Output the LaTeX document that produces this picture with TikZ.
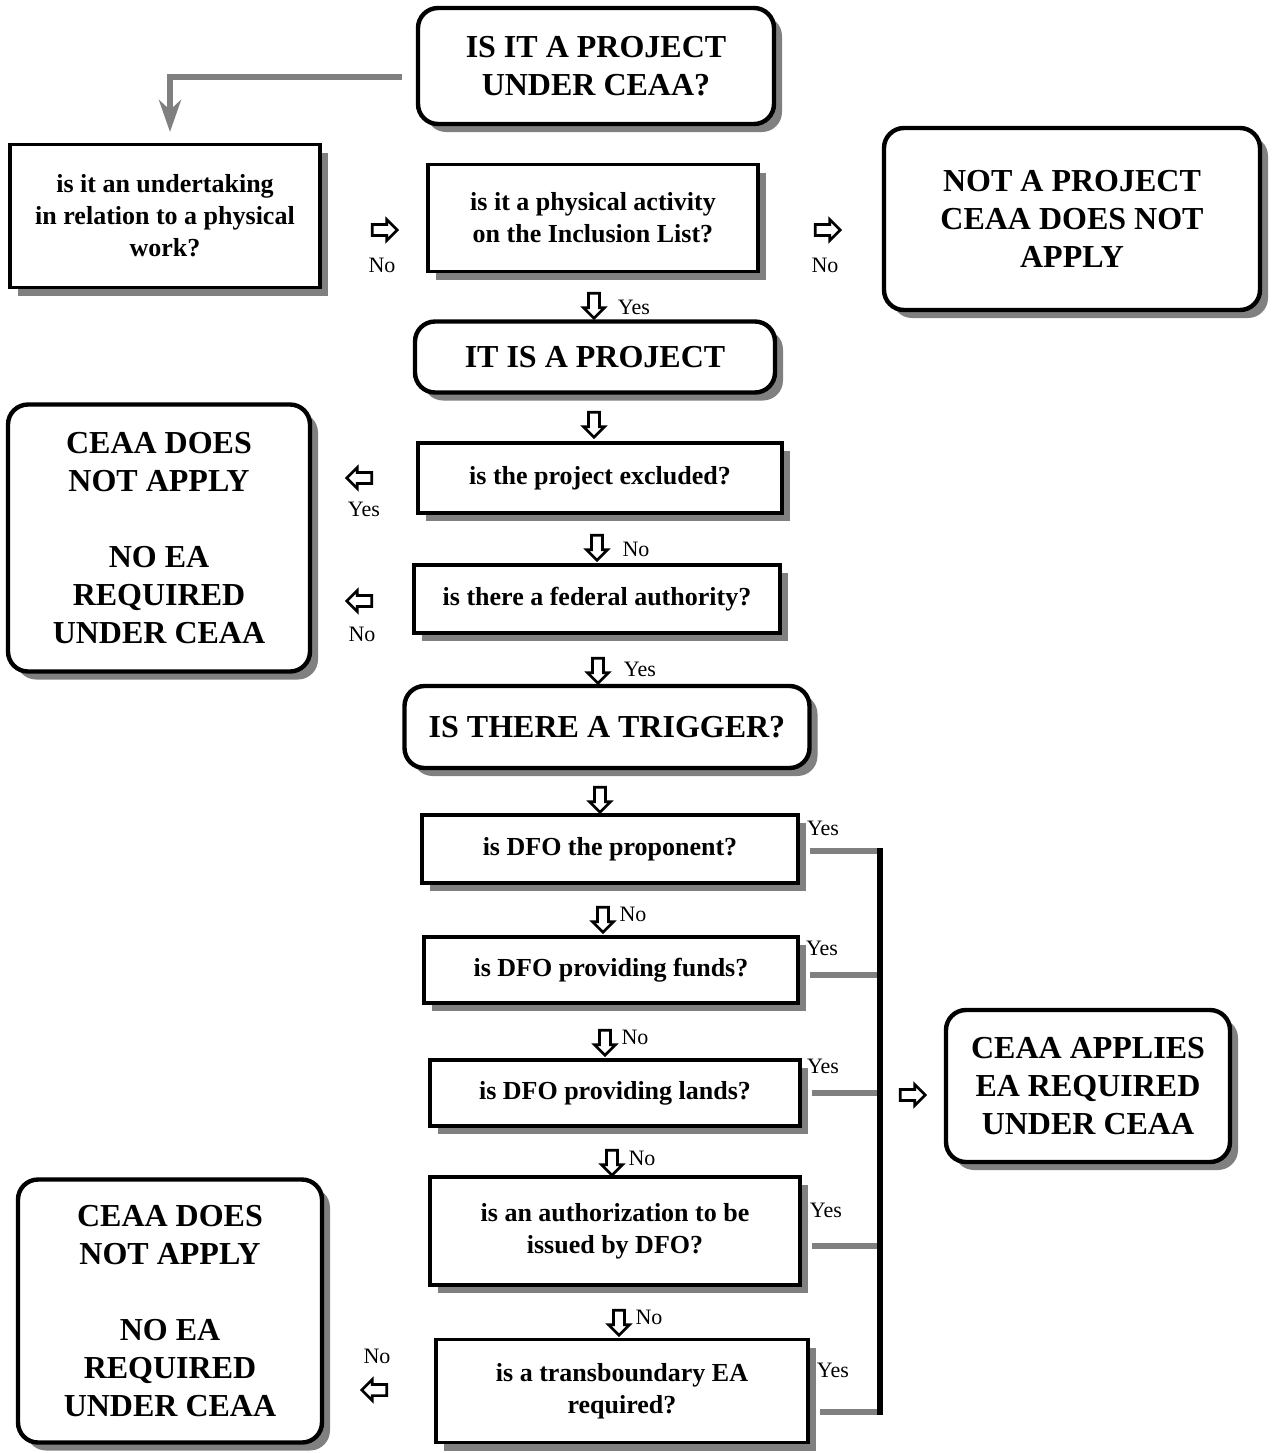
\documentclass[tikz,border=0pt]{standalone}
\usepackage{fontspec}
\setmainfont{Liberation Serif}
\usetikzlibrary{shapes.arrows,shadows,arrows.meta}
\definecolor{shade}{gray}{0.5}
\begin{document}
\begin{tikzpicture}[x=0.5pt,y=-0.5pt,
 box/.style={draw=black, line width=1.8pt, fill=white, align=center,
   font=\bfseries\fontsize{13}{16}\selectfont,
   drop shadow={shadow xshift=4pt, shadow yshift=-4pt, fill=shade, opacity=1}, inner sep=0pt},
 rbox/.style={box, rounded corners=10pt, line width=2.2pt, font=\bfseries\fontsize{16}{19}\selectfont},
 barrow/.style={single arrow, draw=black, line width=1.3pt, fill=white, minimum height=12.5pt,
   minimum width=10.5pt, single arrow head extend=2.2pt, inner sep=1.8pt},
 darrow/.style={barrow, shape border rotate=270},
 larrow/.style={barrow, shape border rotate=180},
 lbl/.style={font=\fontsize{11}{13}\selectfont, inner sep=0pt},
 conn/.style={line width=3pt, draw=shade},
 bus/.style={line width=3pt, draw=black}
]
\useasboundingbox (0,0) rectangle (1275,1453);

% boxes
\node[rbox, minimum width=178pt, minimum height=58pt] (q0) at (596,66) {IS IT A PROJECT\\UNDER CEAA?};
\node[box, minimum width=155pt, minimum height=71.5pt] (q1) at (165,216) {is it an undertaking\\in relation to a physical\\work?};
\node[box, minimum width=165pt, minimum height=53.5pt] (q2) at (593,218) {is it a physical activity\\on the Inclusion List?};
\node[rbox, minimum width=188pt, minimum height=91pt] (np) at (1072,219) {NOT A PROJECT\\CEAA DOES NOT\\APPLY};
\node[rbox, minimum width=180pt, minimum height=35.5pt] (ip) at (595,357) {IT IS A PROJECT};
\node[rbox, minimum width=151pt, minimum height=133.5pt] (na1) at (159,538) {CEAA DOES\\NOT APPLY\\[19pt]NO EA\\REQUIRED\\UNDER CEAA};
\node[box, minimum width=182pt, minimum height=35pt] (ex) at (600,478) {is the project excluded?};
\node[box, minimum width=183pt, minimum height=34pt] (fa) at (597,599) {is there a federal authority?};
\node[rbox, minimum width=202.5pt, minimum height=41pt] (tr) at (607,727) {IS THERE A TRIGGER?};
\node[box, minimum width=188pt, minimum height=34pt] (p1) at (610,849) {is DFO the proponent?};
\node[box, minimum width=187pt, minimum height=33pt] (p2) at (611,970) {is DFO providing funds?};
\node[box, minimum width=185pt, minimum height=33pt] (p3) at (615,1093) {is DFO providing lands?};
\node[box, minimum width=185pt, minimum height=54pt] (p4) at (615,1231) {is an authorization to be\\issued by DFO?};
\node[box, minimum width=186pt, minimum height=51.5pt] (p5) at (622,1391) {is a transboundary EA\\required?};
\node[rbox, minimum width=152pt, minimum height=131.5pt] (na2) at (170,1311) {CEAA DOES\\NOT APPLY\\[19pt]NO EA\\REQUIRED\\UNDER CEAA};
\node[rbox, minimum width=142pt, minimum height=76pt] (ap) at (1088,1086) {CEAA APPLIES\\EA REQUIRED\\UNDER CEAA};

% connector from the top box
\coordinate (c0) at (170,132);
\draw[conn,-{Stealth[length=16pt,width=11pt,inset=5pt]}] ([xshift=-7pt,yshift=-5.5pt]q0.west) -| (c0);

% bus on the right
\coordinate (bt) at (880,851);
\coordinate (bb) at (880,1412);
\coordinate (h1) at ([xshift=5pt,yshift=-1pt]p1.east);
\coordinate (h2) at ([xshift=5pt,yshift=-2.5pt]p2.east);
\coordinate (h3) at ([xshift=5pt]p3.east);
\coordinate (h4) at ([xshift=5pt,yshift=-7.5pt]p4.east);
\coordinate (h5) at ([xshift=5pt,yshift=-10.5pt]p5.east);
\draw[conn] (h1) -- (h1 -| bt);
\draw[conn] (h2) -- (h2 -| bt);
\draw[conn] (h3) -- (h3 -| bt);
\draw[conn] (h4) -- (h4 -| bt);
\draw[conn] (h5) -- (h5 -| bt);
\draw[bus] ([yshift=1.5pt]bt) -- ([yshift=-1.5pt]bb);

% block arrows and labels
\node[barrow] (a1) at (382,230) {};
\node[lbl] (l1) at (382,265) {No};
\node[barrow] (a2) at (825,230) {};
\node[lbl] (l2) at (825,265) {No};
\node[darrow] (a3) at (594,303) {};
\node[lbl] (l3) at (634,307) {Yes};
\node[darrow] (a4) at (594,422) {};
\node[larrow] (a5) at (362,478) {};
\node[lbl] (l5) at (364,509) {Yes};
\node[darrow] (a6) at (597,545) {};
\node[lbl] (l6) at (636,549) {No};
\node[larrow] (a7) at (362,601) {};
\node[lbl] (l7) at (362,634) {No};
\node[darrow] (a8) at (598,668) {};
\node[lbl] (l8) at (640,669) {Yes};
\node[darrow] (a9) at (600,797) {};
\node[darrow] (a10) at (603,917) {};
\node[lbl] (l10) at (633,914) {No};
\node[darrow] (a11) at (605,1040) {};
\node[lbl] (l11) at (635,1037) {No};
\node[darrow] (a12) at (612,1160) {};
\node[lbl] (l12) at (642,1158) {No};
\node[darrow] (a13) at (619,1320) {};
\node[lbl] (l13) at (649,1317) {No};
\node[larrow] (a14) at (377,1390) {};
\node[lbl] (l14) at (377,1356) {No};
\node[barrow] (a15) at (910,1095) {};

\node[lbl] (y1) at (823,828) {Yes};
\node[lbl] (y2) at (822,948) {Yes};
\node[lbl] (y3) at (823,1066) {Yes};
\node[lbl] (y4) at (826,1210) {Yes};
\node[lbl] (y5) at (833,1370) {Yes};
\end{tikzpicture}
\end{document}
